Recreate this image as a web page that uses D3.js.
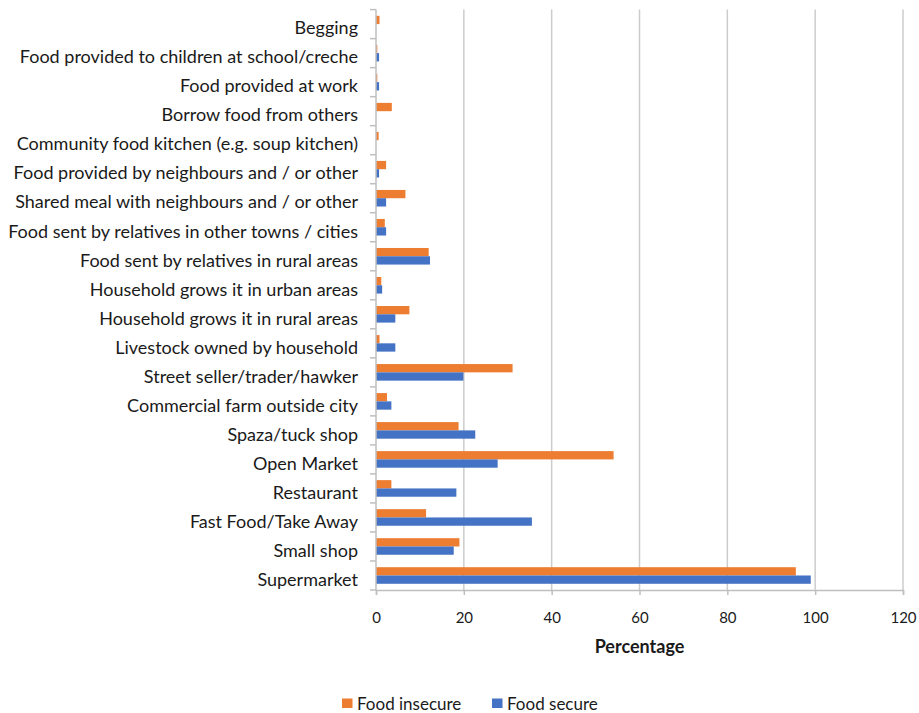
<!DOCTYPE html>
<html>
<head>
<meta charset="utf-8">
<script src="https://cdn.jsdelivr.net/npm/d3@7/dist/d3.min.js"></script>
<style>
  html, body { margin: 0; padding: 0; background: #fff; }
  svg { display: block; }
  text { font-family: Lato, "Open Sans", sans-serif; fill: #1a1a1a; }
</style>
</head>
<body>
<svg id="chart" width="919" height="713"></svg>
<script>
// Food sources, listed top to bottom
const categories = [
  "Begging",
  "Food provided to children at school/creche",
  "Food provided at work",
  "Borrow food from others",
  "Community food kitchen (e.g. soup kitchen)",
  "Food provided by neighbours and / or other",
  "Shared meal with neighbours and / or other",
  "Food sent by relatives in other towns / cities",
  "Food sent by relatives in rural areas",
  "Household grows it in urban areas",
  "Household grows it in rural areas",
  "Livestock owned by household",
  "Street seller/trader/hawker",
  "Commercial farm outside city",
  "Spaza/tuck shop",
  "Open Market",
  "Restaurant",
  "Fast Food/Take Away",
  "Small shop",
  "Supermarket"
];
const foodInsecure = [0.8, 0.3, 0.3, 3.6, 0.6, 2.3, 6.7, 2.0, 12.0, 1.2, 7.6, 0.8, 31.1, 2.5, 18.8, 54.1, 3.5, 11.4, 19.0, 95.6];
const foodSecure   = [0.0, 0.7, 0.7, 0.0, 0.0, 0.7, 2.3, 2.3, 12.3, 1.4, 4.4, 4.4, 19.9, 3.5, 22.6, 27.7, 18.3, 35.5, 17.7, 99.0];
const xTicks = [0, 20, 40, 60, 80, 100, 120];
const seriesNames = ["Food insecure", "Food secure"];
const seriesColors = ["#ED7D31", "#4472C4"];

const svg = d3.select("#chart");
const plotLeft = 376, plotRight = 903, plotTop = 9.6, plotBottom = 590;
const FONT = "Lato, 'Open Sans', sans-serif";

const x = d3.scaleLinear().domain([0, 120]).range([plotLeft, plotRight]);
const y = d3.scaleBand().domain(categories).range([plotTop, plotBottom]);
const sub = d3.scaleBand().domain([0, 1]).range([0, y.bandwidth()]).paddingOuter(0.75).paddingInner(0);

// vertical gridlines
svg.append("g").selectAll("line").data(xTicks.filter(d => d > 0)).join("line")
  .attr("x1", d => x(d)).attr("x2", d => x(d))
  .attr("y1", plotTop).attr("y2", plotBottom)
  .attr("stroke", "#cccccc").attr("stroke-width", 1.5);

// bars
const series = [foodInsecure, foodSecure];
series.forEach((vals, si) => {
  svg.append("g").selectAll("rect").data(categories).join("rect")
    .attr("x", x(0))
    .attr("y", d => y(d) + sub(si))
    .attr("width", (d, i) => x(vals[i]) - x(0))
    .attr("height", sub.bandwidth())
    .attr("fill", seriesColors[si]);
});

// category axis
const yAxis = d3.axisLeft(y).tickSize(0).tickPadding(18);
const yg = svg.append("g").attr("transform", `translate(${plotLeft},0)`).call(yAxis);
yg.select(".domain").remove();
yg.selectAll("text").attr("font-size", 18).attr("y", 4.5)
  .style("fill", "#1a1a1a").style("font-family", FONT);
// category separator ticks
const seps = d3.range(0, categories.length + 1).map(i => plotTop + i * y.step());
svg.append("g").selectAll("line").data(seps).join("line")
  .attr("x1", plotLeft - 6).attr("x2", plotLeft)
  .attr("y1", d => d).attr("y2", d => d)
  .attr("stroke", "#bfbfbf").attr("stroke-width", 1.5);
svg.append("line").attr("x1", plotLeft).attr("x2", plotLeft).attr("y1", plotTop).attr("y2", plotBottom)
  .attr("stroke", "#bfbfbf").attr("stroke-width", 1.5);

// value axis
const xAxis = d3.axisBottom(x).tickValues(xTicks).tickSize(5).tickPadding(17);
const xg = svg.append("g").attr("transform", `translate(0,${plotBottom})`).call(xAxis);
xg.select(".domain").attr("stroke", "#bfbfbf").attr("stroke-width", 1.5);
xg.selectAll(".tick line").attr("stroke", "#bfbfbf").attr("stroke-width", 1.5);
xg.selectAll("text").attr("font-size", 15).style("fill", "#1a1a1a").style("font-family", FONT);

svg.append("text").attr("x", (plotLeft + plotRight) / 2).attr("y", 653)
  .attr("text-anchor", "middle").attr("font-size", 18).attr("font-weight", "bold")
  .text("Percentage");

// legend
const legendItems = [{ x: 342, i: 0 }, { x: 492, i: 1 }];
const lg = svg.append("g").selectAll("g").data(legendItems).join("g")
  .attr("transform", d => `translate(${d.x},698.5)`);
lg.append("rect").attr("x", 0).attr("y", 0).attr("width", 10.5).attr("height", 9.5)
  .attr("fill", d => seriesColors[d.i]);
lg.append("text").attr("x", 15).attr("y", 11).attr("font-size", 17)
  .text(d => seriesNames[d.i]);
</script>
</body>
</html>
